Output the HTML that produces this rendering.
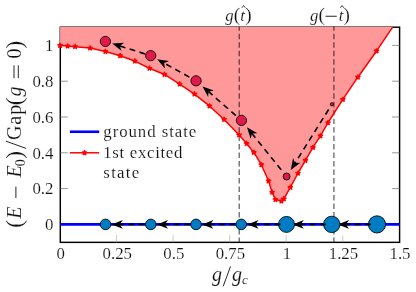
<!DOCTYPE html>
<html><head><meta charset="utf-8"><title>plot</title>
<style>html,body{margin:0;padding:0;background:#fff}svg{display:block;will-change:transform}text{font-family:"Liberation Serif",serif;fill:#111;stroke:#fff;stroke-width:0.14px}</style></head>
<body>
<svg width="416" height="292" viewBox="0 0 416 292">
<rect width="416" height="292" fill="#fff"/>
<defs><clipPath id="c"><rect x="60.10" y="27.00" width="339.50" height="215.35"/></clipPath><clipPath id="c2"><rect x="60.3" y="26.45" width="339.3" height="216.65"/></clipPath></defs>
<rect x="60.3" y="27.2" width="339.30" height="215.15" fill="none" stroke="#000" stroke-width="1.45"/>
<polygon clip-path="url(#c)" fill="#ff9999" points="59.3,26.2 59.3,45.45 60.1,45.45 67.6,46.05 75.1,46.65 90.1,48.05 105.35,51.45 120.1,55.7 134.75,61.05 149.45,68.25 164.45,74.45 179.65,84.05 194.45,94.05 209.45,105.95 224.1,119.45 239.1,134.95 246.6,143.55 253.85,152.45 261.35,164.7 268.6,180.95 272.1,192.3 275.4,199.6 281.4,201.1 283.9,198.9 290.3,187.3 297.95,173.25 305.45,160.45 312.95,147.45 320.45,135.95 327.95,122.75 342.85,99.45 357.85,77.2 376.6,50.95 392.7,27.2 393.7,26.2"/>
<path d="M60.3 224.40h7.5M399.6 224.40h-7.5M60.3 188.60h7.5M399.6 188.60h-7.5M60.3 152.80h7.5M399.6 152.80h-7.5M60.3 117.00h7.5M399.6 117.00h-7.5M60.3 81.20h7.5M399.6 81.20h-7.5M60.3 45.40h7.5M399.6 45.40h-7.5" stroke="#6a6a6a" stroke-width="0.7" fill="none"/>
<path d="M116.55 242.35v-7.3M173.10 242.35v-7.3M229.65 242.35v-7.3M286.20 242.35v-7.3M342.75 242.35v-7.3" stroke="#a0a0a0" stroke-width="0.55" fill="none"/>
<line x1="239.25" y1="8.35" x2="239.25" y2="242.4" stroke="#000" stroke-opacity="0.53" stroke-width="1.5" stroke-dasharray="5.45 3.035" clip-path="url(#c2)"/>
<line x1="333.9" y1="8.35" x2="333.9" y2="242.4" stroke="#000" stroke-opacity="0.53" stroke-width="1.5" stroke-dasharray="5.45 3.035" clip-path="url(#c2)"/>
<polyline clip-path="url(#c)" points="60.1,45.45 67.6,46.05 75.1,46.65 90.1,48.05 105.35,51.45 120.1,55.7 134.75,61.05 149.45,68.25 164.45,74.45 179.65,84.05 194.45,94.05 209.45,105.95 224.1,119.45 239.1,134.95 246.6,143.55 253.85,152.45 261.35,164.7 268.6,180.95 272.1,192.3 275.4,199.6 281.4,201.1 283.9,198.9 290.3,187.3 297.95,173.25 305.45,160.45 312.95,147.45 320.45,135.95 327.95,122.75 342.85,99.45 357.85,77.2 376.6,50.95 392.7,27.2" fill="none" stroke="#f00" stroke-width="1.5" stroke-linejoin="round"/>
<path d="M60.10 45.45l0.00 -2.80M60.10 45.45l2.66 -0.87M60.10 45.45l1.65 2.27M60.10 45.45l-1.65 2.27M60.10 45.45l-2.66 -0.87M67.60 46.05l0.00 -2.80M67.60 46.05l2.66 -0.87M67.60 46.05l1.65 2.27M67.60 46.05l-1.65 2.27M67.60 46.05l-2.66 -0.87M75.10 46.65l0.00 -2.80M75.10 46.65l2.66 -0.87M75.10 46.65l1.65 2.27M75.10 46.65l-1.65 2.27M75.10 46.65l-2.66 -0.87M90.10 48.05l0.00 -2.80M90.10 48.05l2.66 -0.87M90.10 48.05l1.65 2.27M90.10 48.05l-1.65 2.27M90.10 48.05l-2.66 -0.87M105.35 51.45l0.00 -2.80M105.35 51.45l2.66 -0.87M105.35 51.45l1.65 2.27M105.35 51.45l-1.65 2.27M105.35 51.45l-2.66 -0.87M120.10 55.70l0.00 -2.80M120.10 55.70l2.66 -0.87M120.10 55.70l1.65 2.27M120.10 55.70l-1.65 2.27M120.10 55.70l-2.66 -0.87M134.75 61.05l0.00 -2.80M134.75 61.05l2.66 -0.87M134.75 61.05l1.65 2.27M134.75 61.05l-1.65 2.27M134.75 61.05l-2.66 -0.87M149.45 68.25l0.00 -2.80M149.45 68.25l2.66 -0.87M149.45 68.25l1.65 2.27M149.45 68.25l-1.65 2.27M149.45 68.25l-2.66 -0.87M164.45 74.45l0.00 -2.80M164.45 74.45l2.66 -0.87M164.45 74.45l1.65 2.27M164.45 74.45l-1.65 2.27M164.45 74.45l-2.66 -0.87M179.65 84.05l0.00 -2.80M179.65 84.05l2.66 -0.87M179.65 84.05l1.65 2.27M179.65 84.05l-1.65 2.27M179.65 84.05l-2.66 -0.87M194.45 94.05l0.00 -2.80M194.45 94.05l2.66 -0.87M194.45 94.05l1.65 2.27M194.45 94.05l-1.65 2.27M194.45 94.05l-2.66 -0.87M209.45 105.95l0.00 -2.80M209.45 105.95l2.66 -0.87M209.45 105.95l1.65 2.27M209.45 105.95l-1.65 2.27M209.45 105.95l-2.66 -0.87M224.10 119.45l0.00 -2.80M224.10 119.45l2.66 -0.87M224.10 119.45l1.65 2.27M224.10 119.45l-1.65 2.27M224.10 119.45l-2.66 -0.87M239.10 134.95l0.00 -2.80M239.10 134.95l2.66 -0.87M239.10 134.95l1.65 2.27M239.10 134.95l-1.65 2.27M239.10 134.95l-2.66 -0.87M246.60 143.55l0.00 -2.80M246.60 143.55l2.66 -0.87M246.60 143.55l1.65 2.27M246.60 143.55l-1.65 2.27M246.60 143.55l-2.66 -0.87M253.85 152.45l0.00 -2.80M253.85 152.45l2.66 -0.87M253.85 152.45l1.65 2.27M253.85 152.45l-1.65 2.27M253.85 152.45l-2.66 -0.87M261.35 164.70l0.00 -2.80M261.35 164.70l2.66 -0.87M261.35 164.70l1.65 2.27M261.35 164.70l-1.65 2.27M261.35 164.70l-2.66 -0.87M268.60 180.95l0.00 -2.80M268.60 180.95l2.66 -0.87M268.60 180.95l1.65 2.27M268.60 180.95l-1.65 2.27M268.60 180.95l-2.66 -0.87M272.10 192.30l0.00 -2.80M272.10 192.30l2.66 -0.87M272.10 192.30l1.65 2.27M272.10 192.30l-1.65 2.27M272.10 192.30l-2.66 -0.87M275.40 199.60l0.00 -2.80M275.40 199.60l2.66 -0.87M275.40 199.60l1.65 2.27M275.40 199.60l-1.65 2.27M275.40 199.60l-2.66 -0.87M281.40 201.10l0.00 -2.80M281.40 201.10l2.66 -0.87M281.40 201.10l1.65 2.27M281.40 201.10l-1.65 2.27M281.40 201.10l-2.66 -0.87M283.90 198.90l0.00 -2.80M283.90 198.90l2.66 -0.87M283.90 198.90l1.65 2.27M283.90 198.90l-1.65 2.27M283.90 198.90l-2.66 -0.87M290.30 187.30l0.00 -2.80M290.30 187.30l2.66 -0.87M290.30 187.30l1.65 2.27M290.30 187.30l-1.65 2.27M290.30 187.30l-2.66 -0.87M297.95 173.25l0.00 -2.80M297.95 173.25l2.66 -0.87M297.95 173.25l1.65 2.27M297.95 173.25l-1.65 2.27M297.95 173.25l-2.66 -0.87M305.45 160.45l0.00 -2.80M305.45 160.45l2.66 -0.87M305.45 160.45l1.65 2.27M305.45 160.45l-1.65 2.27M305.45 160.45l-2.66 -0.87M312.95 147.45l0.00 -2.80M312.95 147.45l2.66 -0.87M312.95 147.45l1.65 2.27M312.95 147.45l-1.65 2.27M312.95 147.45l-2.66 -0.87M320.45 135.95l0.00 -2.80M320.45 135.95l2.66 -0.87M320.45 135.95l1.65 2.27M320.45 135.95l-1.65 2.27M320.45 135.95l-2.66 -0.87M327.95 122.75l0.00 -2.80M327.95 122.75l2.66 -0.87M327.95 122.75l1.65 2.27M327.95 122.75l-1.65 2.27M327.95 122.75l-2.66 -0.87M342.85 99.45l0.00 -2.80M342.85 99.45l2.66 -0.87M342.85 99.45l1.65 2.27M342.85 99.45l-1.65 2.27M342.85 99.45l-2.66 -0.87M357.85 77.20l0.00 -2.80M357.85 77.20l2.66 -0.87M357.85 77.20l1.65 2.27M357.85 77.20l-1.65 2.27M357.85 77.20l-2.66 -0.87M376.60 50.95l0.00 -2.80M376.60 50.95l2.66 -0.87M376.60 50.95l1.65 2.27M376.60 50.95l-1.65 2.27M376.60 50.95l-2.66 -0.87" stroke="#f00" stroke-width="1.5" fill="none"/>
<path d="M60.1 45.45h0.01M67.6 46.05h0.01M75.1 46.65h0.01M90.1 48.05h0.01M105.35 51.45h0.01M120.1 55.7h0.01M134.75 61.05h0.01M149.45 68.25h0.01M164.45 74.45h0.01M179.65 84.05h0.01M194.45 94.05h0.01M209.45 105.95h0.01M224.1 119.45h0.01M239.1 134.95h0.01M246.6 143.55h0.01M253.85 152.45h0.01M261.35 164.7h0.01M268.6 180.95h0.01M272.1 192.3h0.01M275.4 199.6h0.01M281.4 201.1h0.01M283.9 198.9h0.01M290.3 187.3h0.01M297.95 173.25h0.01M305.45 160.45h0.01M312.95 147.45h0.01M320.45 135.95h0.01M327.95 122.75h0.01M342.85 99.45h0.01M357.85 77.2h0.01M376.6 50.95h0.01" stroke="#f00" stroke-width="3.7" stroke-linecap="round" fill="none"/>
<line x1="60.3" y1="224.25" x2="399.6" y2="224.25" stroke="#00f" stroke-width="2.75"/>
<circle cx="376.98" cy="224.40" r="8.6" fill="#007cc2" stroke="#000" stroke-width="0.85"/>
<path d="M370.98 224.40L345.84 224.40" stroke="#000" stroke-width="1.6" stroke-dasharray="5.9 4.4" fill="none"/><path d="M337.84 224.40L349.04 220.10L345.84 224.40L349.04 228.70Z" fill="#000"/>
<circle cx="331.74" cy="224.40" r="8.2" fill="#007cc2" stroke="#000" stroke-width="0.85"/>
<path d="M325.74 224.40L300.60 224.40" stroke="#000" stroke-width="1.6" stroke-dasharray="5.9 4.4" fill="none"/><path d="M292.60 224.40L303.80 220.10L300.60 224.40L303.80 228.70Z" fill="#000"/>
<circle cx="286.50" cy="224.40" r="8.0" fill="#007cc2" stroke="#000" stroke-width="0.85"/>
<path d="M280.50 224.40L255.36 224.40" stroke="#000" stroke-width="1.6" stroke-dasharray="5.9 4.4" fill="none"/><path d="M247.36 224.40L258.56 220.10L255.36 224.40L258.56 228.70Z" fill="#000"/>
<circle cx="241.26" cy="224.40" r="5.3" fill="#007cc2" stroke="#000" stroke-width="0.85"/>
<path d="M235.26 224.40L210.12 224.40" stroke="#000" stroke-width="1.6" stroke-dasharray="5.9 4.4" fill="none"/><path d="M202.12 224.40L213.32 220.10L210.12 224.40L213.32 228.70Z" fill="#000"/>
<circle cx="196.02" cy="224.40" r="5.3" fill="#007cc2" stroke="#000" stroke-width="0.85"/>
<path d="M190.02 224.40L164.88 224.40" stroke="#000" stroke-width="1.6" stroke-dasharray="5.9 4.4" fill="none"/><path d="M156.88 224.40L168.08 220.10L164.88 224.40L168.08 228.70Z" fill="#000"/>
<circle cx="150.78" cy="224.40" r="5.3" fill="#007cc2" stroke="#000" stroke-width="0.85"/>
<path d="M144.78 224.40L119.64 224.40" stroke="#000" stroke-width="1.6" stroke-dasharray="5.9 4.4" fill="none"/><path d="M111.64 224.40L122.84 220.10L119.64 224.40L122.84 228.70Z" fill="#000"/>
<circle cx="105.54" cy="224.40" r="5.3" fill="#007cc2" stroke="#000" stroke-width="0.85"/>
<circle cx="331.90" cy="104.30" r="1.6" fill="#e0194b" stroke="#000" stroke-width="0.85"/>
<path d="M328.66 109.47L295.00 163.12" stroke="#000" stroke-width="1.6" stroke-dasharray="5.9 4.4" fill="none"/><path d="M290.75 169.89L293.06 158.12L295.00 163.12L300.34 162.69Z" fill="#000"/>
<circle cx="286.60" cy="176.50" r="3.5" fill="#e0194b" stroke="#000" stroke-width="0.85"/>
<path d="M281.20 169.80L252.00 133.56" stroke="#000" stroke-width="1.6" stroke-dasharray="5.9 4.4" fill="none"/><path d="M246.98 127.33L257.36 133.35L252.00 133.56L250.66 138.75Z" fill="#000"/>
<circle cx="241.40" cy="120.40" r="5.15" fill="#e0194b" stroke="#000" stroke-width="0.85"/>
<path d="M235.83 115.53L208.55 91.72" stroke="#000" stroke-width="1.6" stroke-dasharray="5.9 4.4" fill="none"/><path d="M202.53 86.46L213.79 90.58L208.55 91.72L208.14 97.06Z" fill="#000"/>
<circle cx="196.05" cy="80.80" r="5.15" fill="#e0194b" stroke="#000" stroke-width="0.85"/>
<path d="M189.40 77.11L164.17 63.12" stroke="#000" stroke-width="1.6" stroke-dasharray="5.9 4.4" fill="none"/><path d="M157.17 59.24L169.05 60.91L164.17 63.12L164.88 68.43Z" fill="#000"/>
<circle cx="150.70" cy="55.65" r="5.15" fill="#e0194b" stroke="#000" stroke-width="0.85"/>
<path d="M145.07 53.89L119.81 45.97" stroke="#000" stroke-width="1.6" stroke-dasharray="5.9 4.4" fill="none"/><path d="M112.17 43.57L124.15 42.82L119.81 45.97L121.58 51.03Z" fill="#000"/>
<circle cx="105.40" cy="41.45" r="5.15" fill="#e0194b" stroke="#000" stroke-width="0.85"/>
<line x1="69.9" y1="131.75" x2="99.2" y2="131.75" stroke="#00f" stroke-width="2.6"/>
<line x1="69.9" y1="152.8" x2="99.2" y2="152.8" stroke="#f00" stroke-width="1.5"/>
<path d="M84.50 152.80l0.00 -2.80M84.50 152.80l2.66 -0.87M84.50 152.80l1.65 2.27M84.50 152.80l-1.65 2.27M84.50 152.80l-2.66 -0.87" stroke="#f00" stroke-width="1.5" fill="none"/><path d="M84.5 152.8h0.01" stroke="#f00" stroke-width="3.7" stroke-linecap="round"/>
<text x="103.3" y="136.5" font-size="16.8" text-anchor="start" textLength="93" lengthAdjust="spacing">ground state</text>
<text x="103.3" y="157.5" font-size="16.8" text-anchor="start" textLength="79.1" lengthAdjust="spacing">1st excited</text>
<text x="103.3" y="177.5" font-size="16.8" text-anchor="start" textLength="36" lengthAdjust="spacing">state</text>
<text x="53.4" y="230.1" font-size="16.8" text-anchor="end">0</text>
<text x="53.4" y="194.3" font-size="16.8" text-anchor="end">0.2</text>
<text x="53.4" y="158.5" font-size="16.8" text-anchor="end">0.4</text>
<text x="53.4" y="122.7" font-size="16.8" text-anchor="end">0.6</text>
<text x="53.4" y="86.9" font-size="16.8" text-anchor="end">0.8</text>
<text x="53.4" y="51.1" font-size="16.8" text-anchor="end">1</text>
<text x="60.7" y="259.4" font-size="16.8" text-anchor="middle">0</text>
<text x="117.25" y="259.4" font-size="16.8" text-anchor="middle">0.25</text>
<text x="173.8" y="259.4" font-size="16.8" text-anchor="middle">0.5</text>
<text x="230.35" y="259.4" font-size="16.8" text-anchor="middle">0.75</text>
<text x="286.9" y="259.4" font-size="16.8" text-anchor="middle">1</text>
<text x="343.45" y="259.4" font-size="16.8" text-anchor="middle">1.25</text>
<text x="400.0" y="259.4" font-size="16.8" text-anchor="middle">1.5</text>
<text x="217.1" y="280.6" font-size="20" text-anchor="middle" font-style="italic">g</text>
<text x="237.1" y="280.6" font-size="20" text-anchor="middle" font-style="italic">g</text>
<text x="244.9" y="284.4" font-size="13.5" text-anchor="middle" font-style="italic">c</text>
<path d="M223.2 286.3L230.5 266.4" stroke="#1a1a1a" stroke-width="0.95"/>
<text x="229.4" y="20.5" font-size="16.8" text-anchor="middle" font-style="italic">g</text>
<text x="236.9" y="21.2" font-size="19.2" text-anchor="middle">(</text>
<text x="242.6" y="20.5" font-size="16.8" text-anchor="middle" font-style="italic">t</text>
<text x="248.5" y="21.2" font-size="19.2" text-anchor="middle">)</text>
<path d="M241.9 7.8L243.6 5.5L245.3 7.8" stroke="#1a1a1a" stroke-width="0.8" fill="none"/>
<text x="314.3" y="20.5" font-size="16.8" text-anchor="middle" font-style="italic">g</text>
<text x="321.7" y="21.2" font-size="19.2" text-anchor="middle">(</text>
<text x="341.1" y="20.5" font-size="16.8" text-anchor="middle" font-style="italic">t</text>
<text x="346.7" y="21.2" font-size="19.2" text-anchor="middle">)</text>
<path d="M340.4 7.8L342.1 5.5L343.8 7.8" stroke="#1a1a1a" stroke-width="0.8" fill="none"/>
<path d="M325.5 16.25H336.75" stroke="#1a1a1a" stroke-width="0.95"/>
<g transform="translate(21.4,227) rotate(-90)">
<text x="3.1" y="0.9" font-size="23.2" text-anchor="middle">(</text>
<text x="14.45" y="0" font-size="20" text-anchor="middle" font-style="italic">E</text>
<text x="55.5" y="0" font-size="20" text-anchor="middle" font-style="italic">E</text>
<text x="64.2" y="3.1" font-size="14" text-anchor="middle">0</text>
<text x="72.15" y="0.9" font-size="23.2" text-anchor="middle">)</text>
<text x="87.0" y="0" font-size="20" text-anchor="start" textLength="35.2" lengthAdjust="spacing">Gap</text>
<text x="125.75" y="0.9" font-size="23.2" text-anchor="middle">(</text>
<text x="135.5" y="0" font-size="20" text-anchor="middle" font-style="italic">g</text>
<text x="173.5" y="0" font-size="20" text-anchor="middle">0</text>
<text x="182.3" y="0.9" font-size="23.2" text-anchor="middle">)</text>
<path d="M29 -5.5H40.3M148.8 -7.4H161.7M148.8 -3.1H161.7M78.6 4.7L85.8 -15.4" stroke="#1a1a1a" stroke-width="0.95" fill="none"/>
</g>
</svg></body></html>
